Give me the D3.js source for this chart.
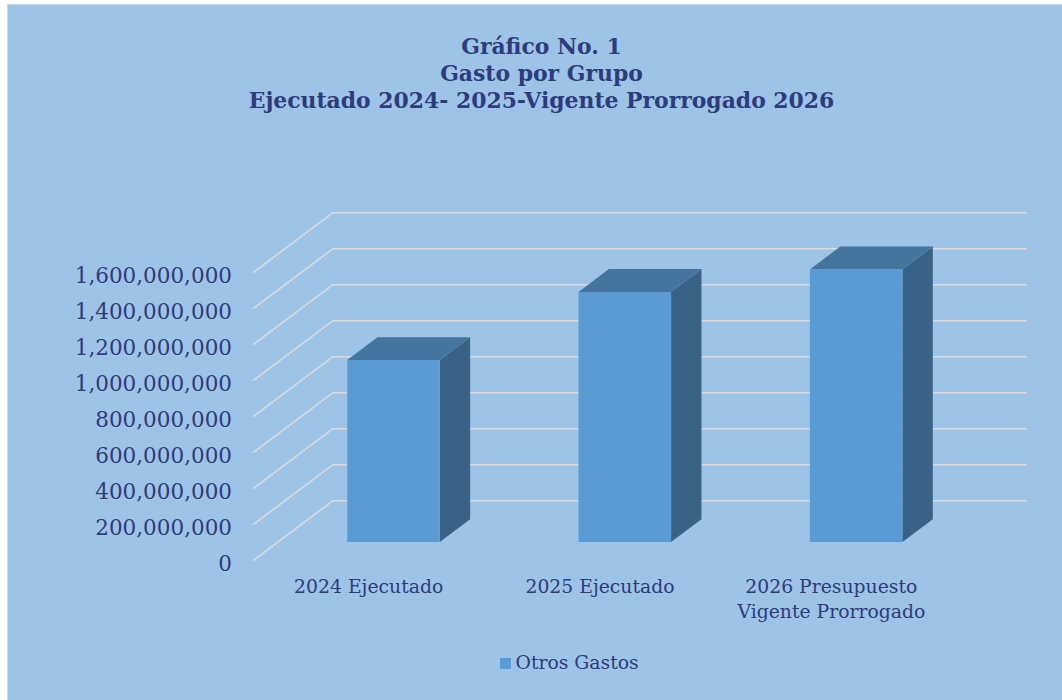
<!DOCTYPE html>
<html><head><meta charset="utf-8">
<script src="https://cdn.jsdelivr.net/npm/d3@7"></script>
<style>body{margin:0;background:#ffffff;overflow:hidden}</style>
</head><body><svg id="chart" width="1062" height="700"></svg>
<script>
// ---- data ----
const categories = ["2024 Ejecutado", "2025 Ejecutado", "2026 Presupuesto Vigente Prorrogado"];
const values = [1011000000, 1390000000, 1515000000];
const seriesName = "Otros Gastos";
const tickValues = [0, 200000000, 400000000, 600000000, 800000000, 1000000000, 1200000000, 1400000000, 1600000000];
const titleLines = ["Gráfico No. 1", "Gasto por Grupo", "Ejecutado 2024- 2025-Vigente Prorrogado 2026"];

// ---- style ----
const textColor = "#2D3C7C";
const bgColor = "#9DC3E6";
const gridColor = "#DADADA";
const barFront = "#5B9BD5";
const barTop = "#44759F";
const barSide = "#386387";

const svg = d3.select("#chart");
svg.append("rect").attr("x", 0).attr("y", 0).attr("width", 1062).attr("height", 700).attr("fill", "#ffffff");
svg.append("rect").attr("x", 7.5).attr("y", 4.5).attr("width", 1060).attr("height", 700)
  .attr("fill", bgColor).attr("stroke", "#D4D4D4").attr("stroke-width", 1);

// scales (front plane) + depth projection
const x = d3.scaleBand().domain(categories).range([253, 947]).paddingInner(0).paddingOuter(0);
const y = d3.scaleLinear().domain([0, 1600000000]).range([560.7, 272.7]);
const DX = 80, DY = -60;
const proj = (px, v, d) => [px + DX * d, y(v) + DY * d];

// gridlines: left wall diagonal + back wall horizontal
const line = d3.line();
const x0r = x.range()[0], x1r = x.range()[1];
svg.append("g").selectAll("path").data(tickValues).join("path")
  .attr("d", t => line([proj(x0r, t, 0), proj(x0r, t, 1), proj(x1r, t, 1)]))
  .attr("fill", "none").attr("stroke", gridColor).attr("stroke-width", 1.6);

// y tick labels
const fmt = d3.format(",");
svg.append("g").selectAll("text").data(tickValues).join("text")
  .attr("x", 232).attr("y", t => y(t) + 10.5)
  .attr("text-anchor", "end")
  .attr("font-family", "'DejaVu Serif', serif").attr("font-size", 21.5)
  .attr("fill", textColor)
  .text(t => fmt(t));

// bars
const bw = x.bandwidth() * 0.4;
const d1 = 0.31, d2 = 0.69;
const poly = pts => "M" + pts.map(p => p.join(",")).join("L") + "Z";
const bars = svg.append("g").selectAll("g").data(categories.map((c, i) => ({c, v: values[i]}))).join("g");
bars.each(function(d) {
  const g = d3.select(this);
  const xl = x(d.c) + (x.bandwidth() - bw) / 2, xr = xl + bw;
  g.append("path").attr("d", poly([proj(xr, d.v, d1), proj(xr, d.v, d2), proj(xr, 0, d2), proj(xr, 0, d1)])).attr("fill", barSide);
  g.append("path").attr("d", poly([proj(xl, d.v, d1), proj(xr, d.v, d1), proj(xr, d.v, d2), proj(xl, d.v, d2)])).attr("fill", barTop);
  g.append("path").attr("d", poly([proj(xl, d.v, d1), proj(xr, d.v, d1), proj(xr, 0, d1), proj(xl, 0, d1)])).attr("fill", barFront);
});

// category labels with wrapping
const catG = svg.append("g");
categories.forEach(c => {
  const t = catG.append("text")
    .attr("x", x(c) + x.bandwidth() / 2).attr("y", 593.3)
    .attr("text-anchor", "middle")
    .attr("font-family", "'DejaVu Serif', serif").attr("font-size", 18.8)
    .attr("fill", textColor);
  const words = c.split(" ");
  let lineWords = [];
  let tspan = t.append("tspan").attr("x", x(c) + x.bandwidth() / 2).attr("dy", 0);
  words.forEach(w => {
    lineWords.push(w);
    tspan.text(lineWords.join(" "));
    if (tspan.node().getComputedTextLength() > x.bandwidth() - 10 && lineWords.length > 1) {
      lineWords.pop();
      tspan.text(lineWords.join(" "));
      lineWords = [w];
      tspan = t.append("tspan").attr("x", x(c) + x.bandwidth() / 2).attr("dy", 24.4).text(w);
    }
  });
});

// title
svg.append("g").selectAll("text").data(titleLines).join("text")
  .attr("x", 541.5).attr("y", (d, i) => [54.3, 80.8, 108.3][i])
  .attr("text-anchor", "middle")
  .attr("font-family", "'DejaVu Serif', serif").attr("font-weight", "bold").attr("font-size", 21.9)
  .attr("fill", textColor)
  .text(d => d);

// legend
const lg = svg.append("g");
lg.append("rect").attr("x", 500).attr("y", 658).attr("width", 11).attr("height", 11).attr("fill", barFront);
lg.append("text").attr("x", 515.5).attr("y", 669.3)
  .attr("font-family", "'DejaVu Serif', serif").attr("font-size", 18.8)
  .attr("fill", textColor).text(seriesName);
</script>
</body></html>
